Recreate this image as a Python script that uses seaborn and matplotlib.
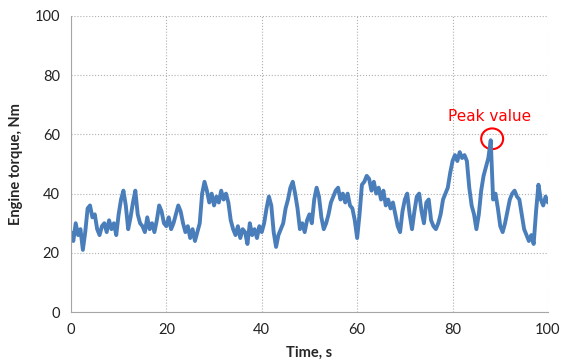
import numpy as np
import pandas as pd
import seaborn as sns
from matplotlib import pyplot as plt
from matplotlib.patches import Ellipse

time_s = np.arange(0, 100.5, 0.5)
torque_nm = [
    27, 24, 30, 26, 28, 21, 27, 35, 36, 32,
    33, 28, 26, 29, 30, 27, 31, 28, 30, 26,
    33, 38, 41, 36, 28, 32, 37, 41, 33, 30,
    29, 27, 32, 28, 30, 27, 31, 36, 34, 30,
    29, 32, 28, 30, 33, 36, 34, 30, 27, 29,
    25, 28, 24, 27, 30, 40, 44, 41, 37, 40,
    36, 39, 37, 41, 38, 40, 37, 31, 28, 26,
    29, 25, 28, 27, 23, 30, 26, 28, 25, 29,
    27, 30, 35, 39, 36, 27, 22, 26, 28, 30,
    35, 38, 42, 44, 40, 35, 28, 30, 27, 31,
    33, 30, 38, 42, 39, 32, 28, 30, 33, 37,
    39, 41, 42, 38, 40, 37, 40, 36, 35, 31,
    25, 33, 43, 44, 46, 45, 41, 44, 40, 42,
    38, 41, 36, 38, 35, 37, 33, 29, 27, 34,
    38, 40, 33, 28, 34, 39, 40, 34, 30, 37,
    38, 31, 29, 28, 30, 33, 38, 40, 42, 47,
    51, 53, 51, 54, 52, 53, 51, 42, 36, 33,
    28, 33, 41, 46, 49, 52, 58, 38, 40, 35,
    29, 27, 30, 34, 38, 40, 41, 39, 38, 33,
    28, 26, 24, 26, 23, 34, 43, 38, 36, 39,
    37,
]
peak_time, peak_value = 88.0, 58.0

df = pd.DataFrame({"time": time_s, "torque": torque_nm})

sns.set_style("white")
plt.rcParams["font.family"] = ["Lato", "DejaVu Sans"]

fig = plt.figure(figsize=(5.72, 3.6), dpi=100)
ax = fig.add_axes([0.124, 0.133, 0.834, 0.823])

sns.lineplot(data=df, x="time", y="torque", ax=ax, color="#4A7EBB", linewidth=2.8)

ax.set_xlim(0, 100)
ax.set_ylim(0, 100)
ax.set_xticks(range(0, 101, 20))
ax.set_yticks(range(0, 101, 20))
ax.grid(True, linestyle=":", color="#B0B0B0", linewidth=0.8)
ax.set_axisbelow(True)
for side in ("top", "right"):
    ax.spines[side].set_visible(False)
for side in ("left", "bottom"):
    ax.spines[side].set_color("#A6A6A6")
ax.tick_params(axis="both", direction="out", length=4, color="#A6A6A6",
               labelsize=10.5, labelcolor="#222222", pad=4)

ax.set_xlabel("Time, s", fontsize=10.5, fontweight="bold", labelpad=6)
ax.set_ylabel("Engine torque, Nm", fontsize=10.5, fontweight="bold", labelpad=8)

ax.add_patch(Ellipse((peak_time + 0.3, peak_value + 0.5), width=4.6, height=7.0,
                     fill=False, edgecolor="red", linewidth=1.5, clip_on=False))
ax.text(peak_time - 0.3, 66, "Peak value", color="red", fontsize=11,
        ha="center", va="center", family=["DejaVu Sans"])

fig.savefig("out.png", dpi=100)
